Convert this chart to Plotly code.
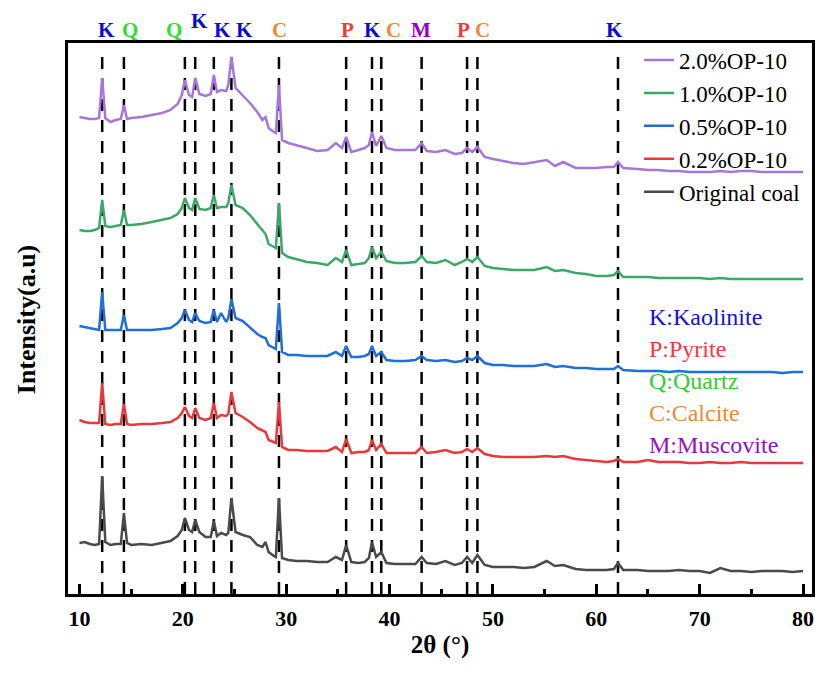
import plotly.graph_objects as go

# ---------------- data ----------------
two_theta = [10, 10.5, 11, 11.5, 11.9, 12.2, 12.5, 13, 13.5, 14.0, 14.3, 14.6, 15, 16, 17, 18, 18.8,
             19.5, 19.9, 20.2, 20.6, 20.9, 21.2, 21.6, 22.2, 22.7, 23.0, 23.3, 23.7, 24.2, 24.4, 24.7,
             25.1, 25.8, 26.5, 27.2, 27.7, 28.0, 28.3, 28.8, 29.0, 29.3, 29.6, 30.2, 31, 32, 33, 34,
             34.8, 35.4, 35.8, 36.3, 37, 37.6, 38.0, 38.3, 38.7, 39.2, 39.7, 40.5, 41.5, 42.5, 43.1,
             43.6, 44.5, 45.4, 46.3, 47.0, 47.5, 48.0, 48.5, 49.2, 50, 51, 52, 53, 54, 55.2, 56, 56.8,
             58, 59, 60, 61, 61.7, 62.1, 62.6, 64, 65, 66, 67, 68, 69, 70, 71, 72, 73, 74, 75, 76,
             77, 78, 79, 80]

original_coal = [57, 58, 56, 55, 56, 124, 58, 55, 56, 56, 87, 57, 55, 56, 55, 57, 59,
                 64, 70, 82, 70, 68, 80, 68, 63, 63, 79, 64, 67, 65, 67, 102,
                 68, 65, 63, 55, 53, 58, 48, 44, 43, 102, 42, 40, 39, 39, 38, 38,
                 43, 40, 55, 38, 37, 38, 42, 58, 43, 48, 37, 36, 36, 36, 43,
                 37, 36, 39, 35, 37, 43, 37, 45, 35, 33, 33, 33, 32, 33, 39, 34, 35,
                 31, 30, 30, 30, 31, 37, 30, 30, 29, 29, 29, 30, 29, 29, 27, 32, 29, 29, 28, 29,
                 29, 29, 28, 29]

op_02 = [180, 178, 177, 177, 177, 217, 176, 175, 176, 176, 196, 176, 175, 176, 176, 177, 178,
         182, 187, 193, 184, 182, 192, 182, 180, 182, 197, 182, 185, 184, 186, 208,
         187, 183, 178, 172, 170, 168, 160, 158, 157, 198, 153, 150, 150, 149, 149, 149,
         153, 148, 161, 147, 148, 148, 150, 160, 150, 156, 147, 147, 147, 147, 153,
         147, 148, 150, 147, 148, 151, 148, 152, 146, 144, 143, 143, 143, 143, 144, 143, 144,
         141, 140, 139, 138, 139, 141, 138, 138, 140, 138, 138, 138, 137, 137, 138, 137, 137, 138, 137, 137,
         137, 137, 137, 137]

op_05 = [274, 273, 272, 271, 270, 308, 270, 270, 270, 270, 285, 270, 270, 270, 270, 271, 272,
         277, 282, 290, 280, 278, 287, 279, 277, 278, 290, 278, 287, 278, 282, 301,
         282, 279, 272, 266, 263, 262, 255, 252, 251, 297, 248, 245, 245, 244, 244, 244,
         248, 244, 254, 243, 243, 244, 246, 254, 244, 248, 240, 239, 239, 240, 244,
         240, 239, 240, 238, 239, 242, 240, 244, 237, 235, 235, 234, 234, 234, 236, 233, 234,
         232, 232, 231, 231, 231, 234, 230, 229, 229, 229, 228, 229, 228, 228, 228, 228, 228, 228, 228, 228,
         228, 227, 228, 228]

op_10 = [370, 369, 369, 370, 372, 400, 374, 373, 374, 375, 390, 375, 375, 376, 378, 380, 382,
         386, 392, 402, 392, 390, 402, 391, 390, 392, 405, 392, 393, 393, 397, 415,
         395, 392, 385, 376, 370, 366, 356, 353, 352, 397, 347, 343, 341, 338, 337, 335,
         342, 338, 350, 335, 336, 337, 342, 353, 342, 348, 339, 337, 337, 338, 344,
         338, 337, 340, 335, 338, 341, 338, 343, 334, 332, 331, 330, 330, 330, 333, 329, 330,
         327, 326, 324, 324, 325, 329, 323, 323, 323, 322, 322, 322, 322, 322, 321, 322, 321, 321, 321, 321,
         321, 321, 321, 321]

op_20 = [483, 482, 481, 481, 482, 522, 482, 478, 480, 481, 495, 481, 482, 483, 485, 487, 490,
         496, 505, 520, 505, 503, 522, 506, 504, 506, 525, 508, 510, 509, 515, 543,
         512, 505, 497, 488, 480, 483, 472, 468, 467, 515, 460, 457, 455, 452, 449, 450,
         457, 452, 463, 448, 450, 452, 455, 468, 454, 464, 452, 450, 450, 450, 457,
         449, 448, 450, 446, 447, 452, 448, 453, 443, 441, 439, 437, 436, 438, 440, 434, 438,
         432, 432, 432, 433, 433, 438, 432, 431, 430, 430, 429, 429, 428, 428, 428, 429, 428, 429, 429, 428,
         428, 428, 428, 428]

series_names = ["2.0%OP-10", "1.0%OP-10", "0.5%OP-10", "0.2%OP-10", "Original coal"]
series_values = [op_20, op_10, op_05, op_02, original_coal]
series_colors = ["#A677D8", "#3CA868", "#1F6FD6", "#E8383E", "#4A4A4A"]

peak_positions = [12.2, 14.3, 20.2, 21.2, 23.0, 24.7, 29.3, 35.8, 38.3, 39.2, 43.1, 47.5, 48.5, 62.1]
peak_labels = ["K", "Q", "Q", "K", "K", "K", "C", "P", "K", "C", "M", "P", "C", "K"]
label_x = [12.62, 14.93, 19.10, 21.61, 23.85, 25.94, 29.38, 35.90, 38.37, 40.39, 43.06, 47.14, 48.97, 61.75]
label_raised = [False, False, False, True, False, False, False, False, False, False, False, False, False, False]

letter_colors = {"K": "#0A0ACF", "Q": "#33DD33", "C": "#E88B3A", "P": "#EE3B3B", "M": "#9400C8"}

mineral_key = ["K:Kaolinite", "P:Pyrite", "Q:Quartz", "C:Calcite", "M:Muscovite"]
mineral_colors = ["#1515C8", "#EE3B3B", "#33CC33", "#E88B3A", "#9511C0"]

x_range = [8.892, 80.867]
y_range = [6, 557]
x_tick_vals = [10, 20, 30, 40, 50, 60, 70, 80]
x_tick_text = ["<b>%d</b>" % v for v in x_tick_vals]

SERIF = "Liberation Serif"

# ---------------- figure ----------------
fig = go.Figure()
for name, vals, col in zip(series_names, series_values, series_colors):
    fig.add_trace(go.Scatter(x=two_theta, y=vals, mode="lines", name=name,
                             legendgroup=name,
                             line=dict(color=col, width=2.5)))

for p in peak_positions:
    fig.add_shape(type="line", xref="x", yref="paper", x0=p, x1=p, y0=0, y1=0.984,
                  line=dict(color="black", width=2.5, dash="12px,9px"), layer="below")

for lx, lab, raised in zip(label_x, peak_labels, label_raised):
    fig.add_annotation(x=lx, xref="x", y=1.040 if raised else 1.0236, yref="paper",
                       text="<b>%s</b>" % lab, showarrow=False, xanchor="center", yanchor="middle",
                       font=dict(family=SERIF, size=21, color=letter_colors[lab]))

key_y0 = 317
for i, (txt, col) in enumerate(zip(mineral_key, mineral_colors)):
    ypx = key_y0 + 32 * i
    fig.add_annotation(x=(649 - 68) / 747, xref="paper", y=(594 - ypx) / 551, yref="paper",
                       text=txt, showarrow=False, xanchor="left", yanchor="middle",
                       font=dict(family=SERIF, size=24, color=col))

fig.add_annotation(x=-0.0562, xref="paper", y=0.499, yref="paper", text="<b>Intensity(a.u)</b>",
                   textangle=-90, showarrow=False, xanchor="center", yanchor="middle",
                   font=dict(family=SERIF, size=26, color="black"))

fig.update_layout(
    width=819, height=679,
    margin=dict(l=68, r=4, t=43, b=85),
    paper_bgcolor="white", plot_bgcolor="white",
    showlegend=True,
    legend=dict(x=0.7674, y=1.008, xanchor="left", yanchor="top", bgcolor="rgba(0,0,0,0)",
                font=dict(family=SERIF, size=23, color="black"), tracegroupgap=0),
    xaxis=dict(range=x_range, tickmode="array", tickvals=x_tick_vals, ticktext=x_tick_text,
               ticks="inside", ticklen=10, tickwidth=3, tickcolor="black",
               showline=True, linewidth=3, linecolor="black", mirror=True,
               showgrid=False, zeroline=False, ticklabelstandoff=3,
               tickfont=dict(family=SERIF, size=22, color="black"),
               minor=dict(ticks="inside", ticklen=5, tickwidth=3, tickcolor="black",
                          tickvals=[15, 25, 35, 45, 55, 65, 75], showgrid=False),
               title=dict(text="<b>2θ (°)</b>", standoff=6,
                          font=dict(family=SERIF, size=25, color="black"))),
    yaxis=dict(range=y_range, showticklabels=False, ticks="",
               showline=True, linewidth=3, linecolor="black", mirror=True,
               showgrid=False, zeroline=False),
)

fig.write_html("out.html")
